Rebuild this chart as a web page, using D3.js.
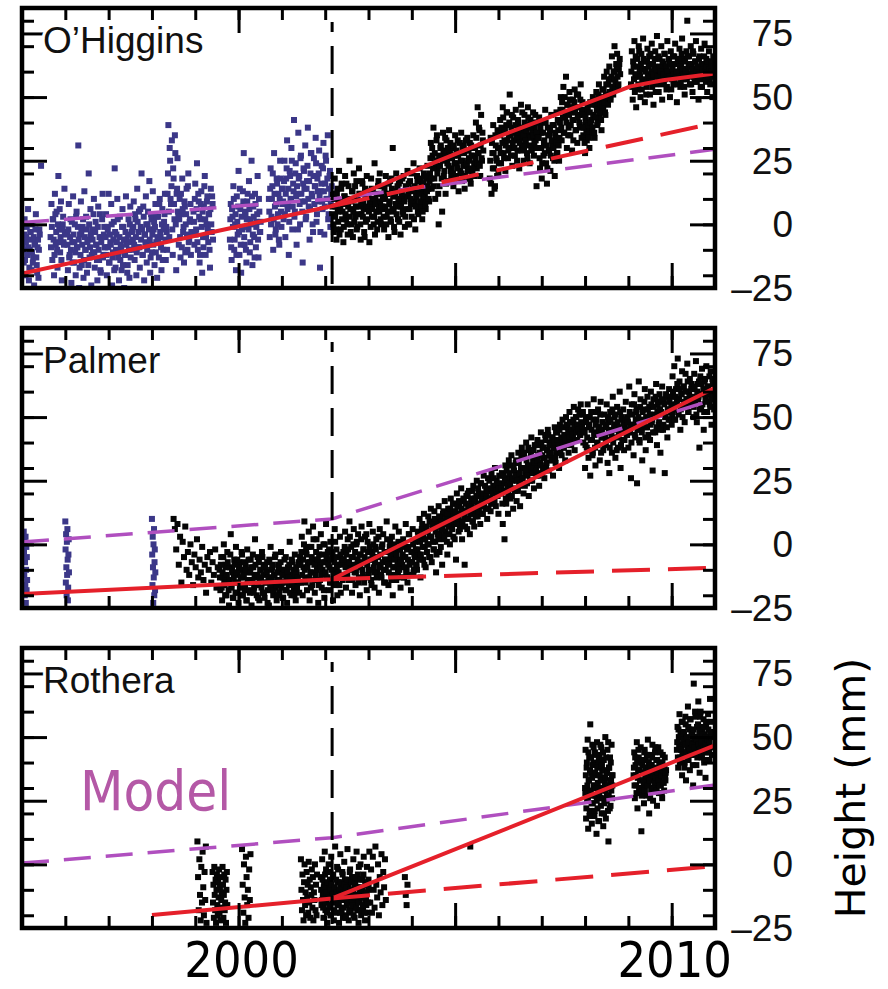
<!DOCTYPE html>
<html><head><meta charset="utf-8">
<script src="https://cdn.jsdelivr.net/npm/d3@7"></script>
<style>
html,body{margin:0;padding:0;background:#fff;}
svg{display:block;}
</style></head>
<body>
<svg id="chart" width="888" height="989"></svg>
<script>
// ---------------- DATA ----------------
const stations = ["O\u2019Higgins", "Palmer", "Rothera"];
const yTickLabels = [-25, 0, 25, 50, 75];
const xTickLabels = [2000, 2010];
const eventYear = 2002.16;            // vertical dashed marker
const blueBefore = [2002.16, 1998.3, 0]; // earlier-instrument points drawn in blue

// GPS heights (mm): [startYear, stepYears, heights]
const ohigginsSegments = [
  [1995.02, 0.02, [-8,-15,2,-20,-5,-12,6,-22,-10,-3,-18,0,-13,-24,-7,4,-16,-9,-21,-2]],
  [1995.44, 0.02, [23]],
  [1995.66, 0.02, [-5,8,-14,2,-20,12,-8,5,-17,19,-2,-11,9,-22,0,-7,14]],
  [1996.04, 0.02, [-3,-18,8,-12,2,-23,-7,11,-15,0,-20,5,-9,31,-25,-4,9,-16,-1,-21,13,-10,3,-19,-6,20,-13,6,-24,-2,-11,10,-17,1,-8,-22,7,-14,4,-19,-5,12,-12,-1]],
  [1996.92, 0.02, [-9,4,-20,-2,12,-15,-7,8,-24,-11,1,22,-17,-4,10,-13,-22,3,-8,-18,6,-1,-25,-12,11,-6,-16,2,-21,7,-10,-3]],
  [1997.56, 0.02, [-6,9,-14,2,-20,14,-9,5,-17,-1,20,-12,7,-22,-4,11,-15,0,-8,17,-19,4,-11,13,-2,-16,8,-7,-21,3,-13,10,-5,-18,6,-10,1,12,-14,-3]],
  [1998.36, 0.02, [12,39,-5,25,8,33,-12,18,2,28,-18,14,5]],
  [1998.62, 0.02, [-8,10,-13,4,18,-3,-15,7,0,14,-10,20,-6,2,-12]],
  [1998.96, 0.02, [5,-8,16,-2,24,-10,9,-15,2,13,-19,-5,7,19,-12,0,11,-7,4,-17,14,-3,8]],
  [1999.80, 0.02, [-6,8,-14,3,15,-10,0,-18,11,-4,21,-12,6,-19,-2,13,28,-8,4,-15,9,-1,17,-11,2,25,-16,7,-5,12,-9,1,19,-13,5,-3]],
  [2000.70, 0.02, [10,-5,22,3,15,-10,28,7,-2,18,0,12,-8,25,5,14]],
  [2001.02, 0.02, [14,2,25,-5,18,33,8,-12,21,10,30,-2,16,41,5,24,-8,12,36,19,0,27,9,-15,22,14,31,3,17,38,7,-6,20,28,11,-3,26,15,34,1,18,9,29,-17,13,23,6,32,-4,16,25,10,35,4,19,-1,12]],
  [2002.16, 0.02, [4,12,-3,18,7,-6,14,1,21,9,-2,16,5,-7,11,19,2,8,-4,15,25,6,0,13,-5,20,10,3,17,-1,7,22,12,-6,4,16,9,-3,14,1,19,6,11,-7,8,18,3,13,0,24,10,5,-2,15,7,20,2,12]],
  [2003.32, 0.02, [6,15,-2,10,19,3,12,-5,8,17,1,14,30,5,-3,11,20,7,2,16,9,-4,13,18,4,10,-1,15,6,21,12,0,17,8,3,14,24,9,-2,11,19,5,13,22,7,16,2,10,20,12,6,18,23,14,9]],
  [2004.42, 0.02, [20,32,14,27,38,18,10,25,35,22,0,15,30,26,5,36,19,28,12,33,24,17,37,29,21]],
  [2004.92, 0.02, [22,30,15,27,35,19,24,33,13,28,21,36,17,25,31,14,29,23,34,18,26,32,16,27,20,35,24,30,40,22,46,28,37,19,43,25,33]],
  [2005.80, 0.02, [18,34,12,28,39,22,15,31,25,37,20]],
  [2006.02, 0.02, [30,41,24,36,46,28,33,21,39,44,26,35,51,30,38,23,42,33,27,45,36,29,40,22,34,47,31,37,25,43,32,39,28,46,35,24,41,30,36,44,27,38,33,15,40]],
  [2006.92, 0.02, [30,42,22,36,18,40,27,33,45,24,16,38,29,35,21,43,31,26,39,19,34,44,28,37,25]],
  [2007.42, 0.02, [40,50,33,45,54,36,42,58,30,47,38,52,35,44,29,49,41,53,37,46,32,51,43,39,55,34,48]],
  [2007.96, 0.02, [35,44,28,40,33,46,38,30,48,41,36,50,43,34,47,52,39,45,55,42,49,37,53,46,58,44,51,60,48,55,62,50,57,66,53,60,70,56,63,67,54,61,65]],
  [2009.06, 0.02, [55,68,49,62,72,58,46,65,53,70,60,50,67,56,73,61,48,64,54,69,59,66,51,63,71,57,47,62,68,55,74,60,52,65,58,70,49,63,56,67,61,53,72,59,64,50,68,57,62,55,66,71,58,48,64,60,69,54,63,73,57,65,51,61,68,80,59,66,55,70,62,52,67,58,64,72,56,61,49,66,59,69,54,63,57,71,60,65,52,62,68,56,64,59,50,66,61]]
];
// second daily solution set, offset by half a step
const ohigginsSegmentsB = [
  [1995.03, 0.02, [-10,-4,-14,-7,-1,-12,-9,-17,-3,-6,-11,-15,-5,-8,-2,-13,-19,-6,-10,-4]],
  [1995.67, 0.02, [-9,-1,2,-6,-12,4,-3,-10,0,-7,6,-5,-14,-2,3,-8,-4]],
  [1996.05, 0.02, [-8,-2,-13,-5,-10,1,-15,-4,-7,-11,3,-9,-1,-6,-17,-12,-3,-8,2,-14,-5,-10,-2,-7,-16,0,-9,-4,-12,-6,4,-11,-3,-8,-14,-1,-10,-5,-18,-7,2,-13,-4,-9]],
  [1996.93, 0.02, [-5,-12,-1,-9,-15,-4,-8,0,-13,-6,-18,-3,-10,-7,2,-11,-5,-14,-9,-1,-16,-6,-12,-3,-8,-19,-4,-10,0,-13,-7,-2]],
  [1997.57, 0.02, [-1,-8,4,-5,-11,1,-3,-9,6,-6,-2,-12,3,-4,-7,0,-10,5,-2,-6,-13,2,-4,-8,1,-1,-11,3,-5,-7,8,-3,-9,0,-14,-2,4,-6,-1,-10]],
  [1998.37, 0.02, [20,5,30,10,15,-2,22,8,35,0,12,26,3]],
  [1998.63, 0.02, [2,-5,12,-9,6,-1,9,-11,4,-4,15,-7,1,8,-3]],
  [1998.97, 0.02, [1,10,-4,6,-7,12,3,-12,8,-1,5,-9,15,2,-5,9,-2,4,-10,6,0,11,-6]],
  [1999.81, 0.02, [2,-9,6,-1,10,-6,4,-12,1,7,-3,14,-8,3,-1,9,-5,5,-10,2,12,-2,6,-7,0,11,-4,3,-13,8,-1,4,-6,10,-3,1]],
  [2000.71, 0.02, [5,14,0,10,20,2,12,-4,8,16,4,-6,10,18,-1,8]],
  [2001.03, 0.02, [9,17,4,12,22,6,14,1,19,10,25,7,13,3,20,11,15,-2,18,8,26,12,5,16,21,9,2,14,23,10,17,6,28,12,0,19,8,15,24,4,13,20,11,-3,16,9,22,13,7,27,10,18,2,14,21,8,15]],
  [2002.17, 0.02, [7,0,10,3,-2,12,5,9,-4,6,14,2,8,-1,11,4,16,0,7,10,3,-3,9,13,5,1,15,7,-2,10,4,12,0,8,17,3,6,-5,11,7,2,13,5,9,-1,14,6,10,3,-4,8,12,1,17,5,9,0,7]],
  [2003.33, 0.02, [10,3,14,7,0,12,5,16,9,2,18,6,11,-1,13,8,4,15,10,1,17,7,12,5,19,9,3,14,11,0,16,6,10,20,8,13,2,15,7,11,17,4,12,9,18,14,5,16,11,8,19,13,15,10,17]],
  [2004.43, 0.02, [26,18,30,22,15,28,24,33,20,12,27,23,31,18,25,29,21,34,16,26,30,23,27,32,19]],
  [2004.93, 0.02, [26,20,31,24,18,29,22,27,17,32,25,20,30,23,28,19,33,24,21,29,25,18,31,22,27,30,19,26,34,24,28,38,23,31,26,36,29]],
  [2005.81, 0.02, [25,16,32,22,28,14,35,26,19,30,24]],
  [2006.03, 0.02, [35,28,38,32,42,26,37,31,44,33,29,40,35,27,43,32,36,30,39,34,25,41,36,32,38,29,44,35,30,40,33,37,26,42,31,38,34,29,40,35,32,43,30,36,34]],
  [2006.93, 0.02, [34,26,38,30,24,36,32,28,40,31,22,35,29,37,27,33,39,30,25,36,32,28,41,31,34]],
  [2007.43, 0.02, [45,38,48,42,36,50,44,40,47,35,43,49,39,46,41,33,48,44,37,51,42,46,40,49,38,45,43]],
  [2007.97, 0.02, [38,32,42,36,45,39,34,44,40,47,38,43,36,49,42,45,40,51,44,47,41,50,46,53,48,43,55,50,47,57,52,49,58,54,51,60,57,53,62,58,55,63,59]],
  [2009.07, 0.02, [60,54,64,57,52,66,59,62,55,68,58,63,53,61,65,57,60,51,64,58,62,56,67,60,54,63,59,65,52,61,58,66,56,62,60,55,64,59,67,57,62,54,60,65,58,63,53,61,66,59,57,63,60,55,65,58,62,56,67,61,59,54,64,60,57,66,62,58,63,55,61,68,59,56,64,60,62,57,65,59,54,63,61,58,66,60,56,62,64,58,61,55,63,60,58,62,59]]
];

const palmerSegments = [
  [1995.04, 0.006, [5,-3,-12,1,-20,-7,-16,3,-23,-10,-1,-18,-5,-14]],
  [1996.00, 0.006, [9,-2,-15,4,-9,-20,1,-12,6,-6,-22,-17,-4,2,-11]],
  [1998.00, 0.006, [10,-4,-16,3,-9,-23,0,-13,6,-20,-7,-2,-18,-11]],
  [1998.50, 0.03, [10,6,-2,8,-8,3,-15,1,-5,7,-10,-3,-12,0,-7,-16,-4,-9,2,-13,-6,-11,-1,-14,-8,-19,-5,-10,-3,-15,-7,-12,-2,-17,-9]],
  [1999.56, 0.02, [-10,-18,-5,-22,-13,0,-16,-8,-20,-3,-14,-24,-9,4,-17,-11,-21,-6,-15,-1,-19,-12,-23,-7,-16,-10,-4,-20,-13,-18,-8,-22,-2,-15,-11,-19,-6,-24,-14,-9,-17,2,-12,-20,-5,-16,-22,-10,-13,-3,-19,-8,-21,-15,-11,-7,-18,-24,-13,-1,-16,-9,-20,-12,-5,-17,-22,-14,-8,-19,-11,-3,-15,-21,-10,-6,-18,-13,-23,-9,-16,1,-12,-20,-7,-14,-18,-4,-22,-11,-15,-8,-19]],
  [2001.42, 0.02, [-5,-15,3,-20,-9,9,-13,-2,-18,-7,5,-22,-11,-1,-16,7,-6,-19,-12,2,-8,-23,-4,-14,4,-17,-10,0,-21,-7,8,-13,-3,-18,-9,1,-15,-5,-22,-11,6,-16,-2,-20,-8,-12,3,-19,-6,-14]],
  [2002.42, 0.02, [-3,-12,5,-17,-7,2,-14,9,-9,-1,-19,-5,6,-11,-16,0,-8,4,-13,-20,-4,7,-10,-2,-15,3,-7,-18,1,-12,8,-6,-14,-3,5,-9,-17,-1,2,-11,-5,-19,6,-8,-13,0,4,-15,-6,-10,9,-3,-16,-7,1,-12,3,-20,-4,-9,7,-14,-2,-11,5,-6,-17,0,-8,2,-13,-5,8,-10,-15,-1,4,-7,-18,-3,6,-11,-4,1,-9]],
  [2004.12, 0.02, [-10,5,-4,10,-13,2,8,-6,12,-1,-9,6,0,11,-5,3,14,-7,7,-2,13,1,-11,9,4,15,-3,10,6,-8,12,2,17,5,8,-4,14,10,0,18,7,12,3,16,9,-6,20,11,5,15,8,22,2,13,17,-8,10,19,6,14,21,4,12,16,9,23,7,18,13,25,11,20,15,8,24,17,12,27,19,14,22,10,26,18,21,13,28,16,23,20,30,15,25,19,12,27,22]],
  [2006.06, 0.02, [20,28,8,24,2,31,16,26,12,33,22,18,35,25,14,29,21,32,17,27,36,23,15,30,38,26,20,34,28,40,24,31,19,37,29,42,25,33,22,39,30,27,41,35,23,32,44,28,38,34,26,43,31,37,45,29,40,35,33,42,27,38,46,32,36,44,39,30,47,41,35,49,38,43,33,50,40,46,36,52,44,39,48,42,54,37,45,50,41,53,47,43,55,46,51,40]],
  [2007.98, 0.02, [45,30,50,38,55,34,47,27,52,41,36,57,44,31,49,39,53,46,33,56,42,48,37,51,43,
                   40,55,32,48,28,52,45,36,58,42,50,34,47,54,38,44,60,30,49,41,53,37,46,56,43,
                   50,38,62,44,26,55,47,35,59,42,52,24,48,64,40,57,45,33,53,49,61,37,46,58,43,
                   54,41,60,48,29,57,51,44,63,39,55,47,59,36,52,62,45,56,28,50,58,42,53,61,49,
                   58,47,66,53,70,49,61,56,73,51,64,45,59,68,54,62,48,67,57,71,52,60,65,55,63,
                   61,50,67,56,72,48,63,58,38,66,54,69,59,45,64,57,70,52,62,60,55,68,47,65,58,53]]
];
const palmerSegmentsB = [
  [1999.57, 0.02, [-13,-8,-17,-11,-5,-15,-20,-9,-12,-7,-18,-14,-4,-16,-10,-21,-13,-8,-19,-11,-6,-15,-9,-17,-13,-3,-20,-12,-7,-16,-10,-22,-14,-6,-18,-11,-9,-15,-4,-19,-13,-8,-16,-12,-21,-7,-14,-10,-17,-5,-12,-19,-9,-15,-11,-23,-13,-6,-17,-10,-14,-8,-18,-12,-4,-16,-11,-20,-9,-14,-7,-17,-12,-21,-10,-15,-5,-18,-11,-13,-8,-19,-14,-6,-16,-10,-20,-12,-9,-17,-13,-7,-15]],
  [2001.43, 0.02, [-8,-3,-12,-6,0,-10,-15,-4,-9,-1,-13,-7,-17,-5,-11,2,-8,-14,-3,-10,-6,-16,-1,-9,-12,-4,-7,-18,0,-11,-5,-13,-8,-2,-15,-6,-10,-3,-12,-7,1,-14,-9,-5,-11,-16,-4,-8,-13,-6]],
  [2002.43, 0.02, [-6,-1,-9,-4,-12,-2,-7,3,-10,-5,-14,0,-8,-3,-11,1,-6,-15,-4,-9,2,-7,-12,-2,-5,-13,4,-8,-3,-10,-1,-6,-16,-4,0,-11,-7,-2,-13,-5,3,-9,-4,-12,-1,-7,-10,-3,-15,-6,2,-8,-11,-1,-5,-14,-3,-9,0,-6,-12,-4,-8,1,-10,-2,-7,-13,-4,-1,-9,-5,-11,-2,-6,4,-8,-12,-3,-7,0,-10,-5,-2,-8]],
  [2004.13, 0.02, [-2,3,-6,1,-4,6,-1,4,-8,2,7,-3,5,0,9,-5,3,8,1,-2,10,5,-4,7,2,11,4,-1,9,6,13,3,8,10,1,12,7,4,14,9,6,16,11,2,13,8,15,10,17,6,12,14,9,18,11,7,16,13,20,10,15,12,18,21,9,14,17,11,19,15,22,13,16,24,18,12,20,15,23,17,19,21,14,25,18,16,22,20,26,17,23,21,19,24,22]],
  [2006.07, 0.02, [22,16,27,21,25,18,29,23,20,28,24,31,19,26,30,22,27,33,25,21,32,28,24,34,26,30,36,23,29,33,27,38,31,25,35,30,28,37,32,34,29,39,33,27,36,31,40,35,30,38,34,41,32,37,43,35,39,36,33,42,38,40,34,44,37,41,39,45,36,42,40,46,38,43,41,47,39,44,42,48,40,45,43,49,46,41,50,44,47,45,51,43,48,46,52,44]],
  [2007.99, 0.02, [44,39,48,42,37,46,50,41,45,35,49,43,38,47,52,40,46,44,51,36,45,48,42,39,47,
                   46,41,50,44,38,49,43,53,40,47,45,51,37,48,42,46,52,39,50,44,47,41,49,45,43,
                   48,44,52,46,40,51,47,55,43,49,53,45,50,41,54,47,44,52,48,56,42,50,46,53,49,
                   51,47,55,49,44,54,50,58,46,52,56,48,53,45,57,51,47,55,50,59,46,53,49,56,52,
                   55,51,60,54,49,58,55,63,52,57,61,53,59,50,62,56,54,60,57,64,52,58,55,61,57,
                   58,54,62,56,51,60,57,64,53,59,63,55,61,52,65,58,56,62,59,66,54,60,57,63,59]]
];

const rotheraSegments = [
  [1999.05, 0.015, [9,-5,-18,2,-12,-22,-1,-15,5,-9,-20,-3,-14,7,-23]],
  [1999.40, 0.01, [-3,-15,-8,-21,-1,-12,-18,-6,-23,-10,-4,-16,-20,-7,-13,-2,-19,-9,-22,-5,-14,-11,-17,-1,-8,-21,-12,-4,-18,-15,-6,-23,-10,-3,-16]],
  [2000.08, 0.015, [6,-8,-19,0,-13,-23,3,-5,-16,-10,-21,-2,-14,4]],
  [2001.44, 0.012, [2,-10,-18,-4,-14,-22,-7,0,-16,-11,-20,-3,-13,-8,-19,1,-15,-6,-21,-9,-12,-2,-17,-5,-22,-11,-14,0,-18,-8,-20,-4]],
  [2001.90, 0.015, [-5,-16,2,-12,-21,-8,5,-18,-2,-14,-23,-9,0,-17,-6,-20,3,-11,-15,-4,-22,-10,7,-13,-19,-1,-7,-16,-23,-12,4,-9,-18,-3,-21,-14,1,-6,-20,-11,-16,6,-8,-22,-13,-2,-19,-10,-5,-17,2,-15,-21,-7,-12,5,-18,-4,-23,-9,-14,0,-20,-11,-6,-17,3,-13,-22,-8,-16,-1,-19,-10]],
  [2003.00, 0.02, [-6,5,-15,-2,-19,3,-10,-17,7,-8,-13,0,-20,-5,-11,4,-16,-3,-9,2,-14]],
  [2003.84, 0.02, [-5,-12,-16,-8]],
  [2005.35, 0.02, [7]],
  [2008.00, 0.012, [30,45,18,38,25,49,14,33,42,21,55,28,36,16,47,24,40,31,19,44,27,35,12,48,22,39,30,17,43,26,34,46,20,37,29,15,41,24,32,50,18,36,27,45,21,9,38,30,42,23,33,47,26,35]],
  [2009.12, 0.015, [35,44,26,39,31,48,22,37,42,28,33,46,13,40,30,36,24,45,34,41,27,38,49,32,20,43,35,29,39,47,25,37,33,44,30,41,23,36,46,28,34,40,31,38,26,43,35,29,42,33,37]],
  [2010.12, 0.015, [45,54,38,50,59,42,47,47,35,56,44,51,40,58,33,49,46,62,41,53,37,57,48,44,52,31,71,43,60,47,39,54,50,64,45,36,58,49,42,53,46,57,40,51,34,55,48,44,59,50,41,65,46,56,43]]
];
const rotheraSegmentsB = [
  [2001.9075, 0.015, [-10,-14,-6,-17,-9,-12,-4,-15,-11,-19,-7,-13,-3,-16,-10,-20,-8,-12,-5,-14,-18,-9,-13,-6,-11,-16,-2,-15,-10,-19,-7,-12,-14,-4,-17,-11,-8,-13,-21,-9,-6,-15,-12,-18,-3,-10,-14,-7,-16,-11,-20,-8,-13,-5,-17,-12,-9,-15,-1,-11,-18,-6,-13,-10,-16,-4,-12,-19,-8,-14,-11,-7,-15,-9]],
  [2008.006, 0.012, [28,35,22,40,31,26,44,33,19,37,29,42,24,34,39,27,46,31,21,36,30,43,25,38,32,17,41,28,35,47,23,33,39,26,44,30,20,37,34,29,42,25,36,31,48,27,38,22,33,40,29,35,31]],
  [2009.1275, 0.015, [38,31,42,35,28,40,34,45,30,37,33,41,27,39,36,32,44,29,38,35,43,31,37,40,33,26,39,36,42,30,35,38,32,46,34,29,41,36,33,39,31,44,35,28,40,37,32,38,34,36]],
  [2010.1275, 0.015, [48,42,53,46,40,51,45,56,43,49,52,38,47,55,44,50,41,54,48,45,57,43,51,47,39,53,46,50,58,44,49,42,55,47,52,45,60,48,43,51,46,54,41,50,47,56,44,49,53,45,48,52,46,50]]
];

// Fitted trends (solid red), pre-2002 trend extrapolated (dashed red), GIA model (dashed magenta)
const ohigginsFit    = [[1995,-19.3],[2002.16,7.2],[2004.4,23.5],[2006.0,34.5],[2008.75,52.2],[2009.05,54.2],[2009.8,56.6],[2011,59.3]];
const ohigginsExtrap = [[2002.16,7.2],[2011,39.8]];
const ohigginsModel  = [[1995,0.7],[2002.16,10.0],[2011,29.5]];
const palmerFit      = [[1995,-19.5],[2002.16,-13.7],[2011,61.5]];
const palmerExtrap   = [[2002.16,-13.7],[2011,-9.2]];
const palmerModel    = [[1995,0.9],[2002.16,10.0],[2011,57.0]];
const rotheraFit     = [[1998,-19.9],[2002.16,-13.4],[2011,46.8]];
const rotheraExtrap  = [[2002.16,-13.4],[2011,-0.7]];
const rotheraModel   = [[1995,0.5],[2002.16,10.5],[2011,31.2]];

// ---------------- DRAW ----------------
const segmentsByStation = [
  ohigginsSegments.concat(ohigginsSegmentsB),
  palmerSegments.concat(palmerSegmentsB),
  rotheraSegments.concat(rotheraSegmentsB)
];
const fits = [ohigginsFit, palmerFit, rotheraFit];
const extraps = [ohigginsExtrap, palmerExtrap, rotheraExtrap];
const models = [ohigginsModel, palmerModel, rotheraModel];

const COL_BLUE = "#3b3788", COL_BLACK = "#050505", COL_RED = "#e5202a",
      COL_MAG = "#b04fbf", COL_MODEL_TXT = "#b458a6";

const svg = d3.select("#chart");
const x = d3.scaleLinear().domain([1995, 2011]).range([22, 715]);
const panelTops = [8, 328, 648];
const panelH = 280;
const yearTicks = d3.range(1996, 2011);
const minorY = d3.range(-20, 85, 10);
const majorY = [0, 25, 50, 75];

stations.forEach((name, i) => {
  const top = panelTops[i], bottom = top + panelH;
  const y = d3.scaleLinear().domain([-25, 85]).range([bottom, top]);
  const g = svg.append("g");
  const clipId = "clip" + i;
  svg.append("clipPath").attr("id", clipId)
    .append("rect").attr("x", x(1995)).attr("y", top).attr("width", x(2011) - x(1995)).attr("height", panelH);

  const pts = [];
  segmentsByStation[i].forEach(([s, step, hs]) => hs.forEach((h, k) => pts.push([s + k * step, h])));
  const plot = g.append("g").attr("clip-path", `url(#${clipId})`);
  const sz = 6;
  plot.append("g").selectAll("rect").data(pts).join("rect")
    .attr("x", d => x(d[0]) - sz / 2).attr("y", d => y(d[1]) - sz / 2)
    .attr("width", sz).attr("height", sz)
    .attr("fill", d => d[0] < blueBefore[i] ? COL_BLUE : COL_BLACK);

  const line = d3.line().x(d => x(d[0])).y(d => y(d[1]));
  plot.append("path").attr("d", line(models[i])).attr("fill", "none")
    .attr("stroke", COL_MAG).attr("stroke-width", 3.5).attr("stroke-dasharray", "27,15");
  plot.append("path").attr("d", line(extraps[i])).attr("fill", "none")
    .attr("stroke", COL_RED).attr("stroke-width", 4).attr("stroke-dasharray", "38,18");
  plot.append("path").attr("d", line(fits[i])).attr("fill", "none")
    .attr("stroke", COL_RED).attr("stroke-width", 4).attr("stroke-linejoin", "round");

  // event marker
  g.append("line").attr("x1", x(eventYear)).attr("x2", x(eventYear))
    .attr("y1", top + 14).attr("y2", bottom)
    .attr("stroke", "#000").attr("stroke-width", 3)
    .attr("stroke-dasharray", "28,14").attr("stroke-dashoffset", 18);

  // inward ticks via d3 axes
  const styleAxis = sel => { sel.select(".domain").remove(); sel.selectAll("line").attr("stroke", "#000").attr("stroke-width", 3); sel.selectAll("text").remove(); };
  g.append("g").attr("transform", `translate(${x(1995)},0)`).call(d3.axisRight(y).tickValues(minorY).tickSize(12)).call(styleAxis);
  g.append("g").attr("transform", `translate(${x(1995)},0)`).call(d3.axisRight(y).tickValues(majorY).tickSize(25)).call(styleAxis);
  g.append("g").attr("transform", `translate(${x(2011)},0)`).call(d3.axisLeft(y).tickValues(minorY).tickSize(12)).call(styleAxis);
  g.append("g").attr("transform", `translate(${x(2011)},0)`).call(d3.axisLeft(y).tickValues(majorY).tickSize(25)).call(styleAxis);
  g.append("g").attr("transform", `translate(0,${top})`).call(d3.axisBottom(x).tickValues(yearTicks).tickSize(12)).call(styleAxis);
  g.append("g").attr("transform", `translate(0,${top})`).call(d3.axisBottom(x).tickValues([2000, 2005, 2010]).tickSize(25)).call(styleAxis);
  g.append("g").attr("transform", `translate(0,${bottom})`).call(d3.axisTop(x).tickValues(yearTicks).tickSize(12)).call(styleAxis);
  g.append("g").attr("transform", `translate(0,${bottom})`).call(d3.axisTop(x).tickValues([2000, 2005, 2010]).tickSize(25)).call(styleAxis);

  // frame
  g.append("rect").attr("x", x(1995)).attr("y", top).attr("width", x(2011) - x(1995)).attr("height", panelH)
    .attr("fill", "none").attr("stroke", "#000").attr("stroke-width", 4.5);

  // station label
  g.append("text").attr("x", 43).attr("y", top + 45).text(name)
    .attr("font-family", "'Liberation Sans', Arial, Helvetica, sans-serif").attr("font-size", 37)
    .attr("fill", "#111").attr("stroke", "#fff").attr("stroke-width", 6)
    .attr("paint-order", "stroke").attr("stroke-linejoin", "round");

  // y tick labels
  g.selectAll("text.ylab").data(yTickLabels).join("text").attr("class", "ylab")
    .attr("x", 793).attr("y", d => y(d) + 13).attr("text-anchor", "end")
    .attr("font-family", "'Liberation Sans', Arial, Helvetica, sans-serif").attr("font-size", 37)
    .attr("fill", "#111")
    .text(d => d < 0 ? "\u2013" + Math.abs(d) : String(d));
});

// x labels under last panel
svg.selectAll("text.xlab").data(xTickLabels).join("text").attr("class", "xlab")
  .attr("x", d => x(d) + 3).attr("y", 977).attr("text-anchor", "middle")
  .attr("font-family", "'DejaVu Sans Condensed', 'DejaVu Sans', sans-serif")
  .attr("font-stretch", "condensed").attr("font-size", 50).attr("fill", "#000")
  .text(d => d);

// "Model" label
svg.append("text").attr("x", 80).attr("y", 810).text("Model")
  .attr("font-family", "'DejaVu Sans Condensed', 'DejaVu Sans', sans-serif")
  .attr("font-stretch", "condensed").attr("font-size", 56).attr("fill", COL_MODEL_TXT);

// y-axis title
svg.append("text").attr("transform", "translate(865,788) rotate(-90)")
  .attr("text-anchor", "middle").text("Height (mm)")
  .attr("font-family", "'DejaVu Sans', Verdana, sans-serif").attr("font-size", 41).attr("fill", "#000");
</script>
</body></html>
